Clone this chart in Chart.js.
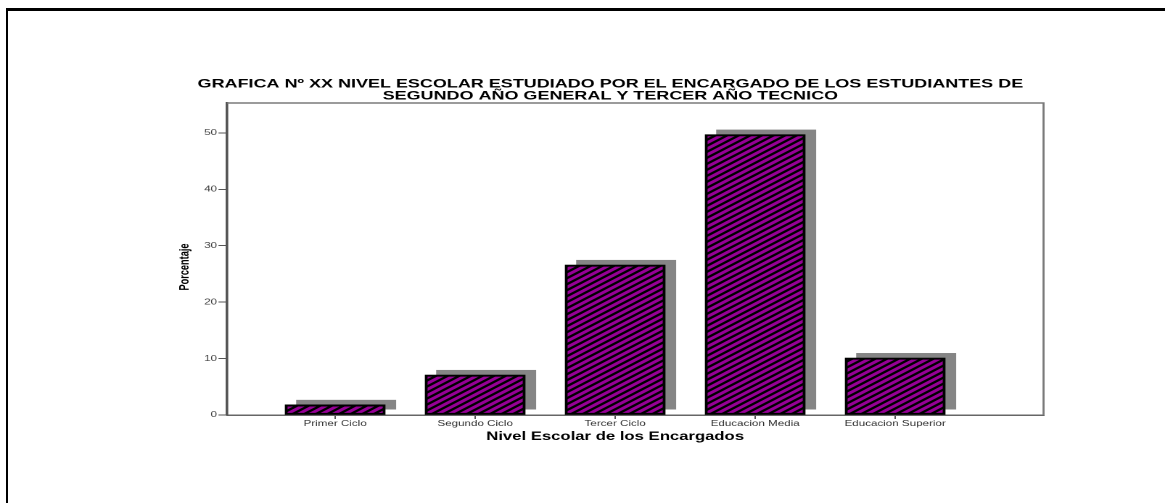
<!DOCTYPE html>
<html><head><meta charset="utf-8">
<script src="https://cdn.jsdelivr.net/npm/chart.js@4/dist/chart.umd.min.js"></script>
<style>
html,body{margin:0;padding:0;background:#fff;overflow:hidden;width:1165px;height:503px;}
#frame{position:absolute;left:6px;top:8px;width:1200px;height:600px;border-top:3px solid #000;border-left:2px solid #000;}
#c{position:absolute;left:0;top:0;}
</style></head><body>
<div id="frame"></div>
<canvas id="c" width="803" height="503" style="width:1165px;height:503px;"></canvas>
<script>
// ---- data ----
const categories = ['Primer Ciclo', 'Segundo Ciclo', 'Tercer Ciclo', 'Educacion Media', 'Educacion Superior'];
const percentages = [1.8, 7.1, 26.6, 49.7, 10.1];
const yTickValues = [0, 10, 20, 30, 40, 50];
const titleLines = ['GRAFICA Nº XX NIVEL ESCOLAR ESTUDIADO POR EL ENCARGADO DE LOS ESTUDIANTES DE', 'SEGUNDO AÑO GENERAL Y TERCER AÑO TECNICO'];
const xTitle = 'Nivel Escolar de los Encargados';
const yTitle = 'Porcentaje';

// ---- styling constants ----
const SX = 1165 / 803;           // horizontal stretch of the picture
const FONT = '"Liberation Sans", Arial, sans-serif';
const SHADOW_DX = 11 / SX, SHADOW_DY = -5;

function makePattern(ctx) {
  const S = 2, w = 8 * S, h = 6 * S;
  const t = document.createElement('canvas'); t.width = w; t.height = h;
  const tc = t.getContext('2d'); const img = tc.createImageData(w, h);
  const n = 4;
  for (let y = 0; y < h; y++) for (let x = 0; x < w; x++) {
    let cov = 0;
    for (let sy = 0; sy < n; sy++) for (let sx = 0; sx < n; sx++) {
      const ux = (x + (sx + 0.5) / n) / S, uy = (y + (sy + 0.5) / n) / S;
      const v = ((uy + ux * 0.75) % 6 + 6) % 6;
      if (v < 2.6) cov++;
    }
    const a = cov / (n * n), i = (y * w + x) * 4;
    img.data[i] = 150 * (1 - a); img.data[i + 1] = 0; img.data[i + 2] = 150 * (1 - a); img.data[i + 3] = 255;
  }
  tc.putImageData(img, 0, 0);
  const p = ctx.createPattern(t, 'repeat');
  p.setTransform(new DOMMatrix().scale(1 / S));
  return p;
}

const shadowPlugin = {
  id: 'barShadow',
  beforeDatasetsDraw(chart) {
    const ctx = chart.ctx, meta = chart.getDatasetMeta(0);
    ctx.save(); ctx.fillStyle = '#858585';
    meta.data.forEach(el => {
      const p = el.getProps(['x', 'y', 'base', 'width'], true);
      ctx.fillRect(p.x - p.width / 2 + SHADOW_DX, p.y + SHADOW_DY, p.width, p.base - p.y);
    });
    ctx.restore();
  }
};

const framePlugin = {
  id: 'frameAndTitles',
  afterDraw(chart) {
    const ctx = chart.ctx, a = chart.chartArea;
    ctx.save();
    ctx.strokeStyle = '#7a7a7a'; ctx.lineWidth = 1.4;
    ctx.beginPath();
    ctx.moveTo(a.left, a.top); ctx.lineTo(a.right, a.top); ctx.lineTo(a.right, a.bottom);
    ctx.stroke();
    ctx.fillStyle = '#000';
    ctx.textAlign = 'center'; ctx.textBaseline = 'middle';
    ctx.font = 'bold 11.5px ' + FONT;
    const xs = chart.scales.x;
    ctx.fillText(xTitle, xs.getPixelForValue((categories.length - 1) / 2), 437);
    ctx.font = 'bold 9.2px ' + FONT;
    ctx.translate(127.6, 267); ctx.rotate(-Math.PI / 2);
    ctx.fillText(yTitle, 0, 0);
    ctx.restore();
  }
};

const canvas = document.getElementById('c');
const ctx = canvas.getContext('2d');
const pattern = makePattern(ctx);

new Chart(ctx, {
  type: 'bar',
  data: {
    datasets: [{
      data: percentages.map((v, i) => ({ x: i, y: v })),
      backgroundColor: pattern,
      borderColor: '#000',
      borderWidth: 2,
      borderSkipped: false,
      barThickness: 100 / SX
    }]
  },
  options: {
    responsive: false,
    devicePixelRatio: 2,
    animation: false,
    layout: { padding: { left: 122.1, right: 83.7, top: 0, bottom: 74 } },
    plugins: {
      legend: { display: false },
      tooltip: { enabled: false },
      title: {
        display: true,
        text: titleLines,
        color: '#000',
        font: { family: FONT, size: 12.4, weight: 'bold', lineHeight: '12px' },
        padding: { top: 78, bottom: 1 }
      }
    },
    scales: {
      x: {
        type: 'linear',
        min: -0.771, max: 5.06,
        offset: false,
        afterBuildTicks(s) { s.ticks = categories.map((_, i) => ({ value: i })); },
        afterFit(s) { s.height = 14; },
        ticks: {
          callback: (v, i) => categories[i],
          font: { family: FONT, size: 8 },
          color: '#333', padding: 0, maxRotation: 0, autoSkip: false
        },
        grid: { drawOnChartArea: false, offset: false, tickLength: 4, color: '#555' },
        border: { display: true, color: '#666', width: 1.5 }
      },
      y: {
        type: 'linear',
        min: 0, max: 55.3,
        afterBuildTicks(s) { s.ticks = yTickValues.map(v => ({ value: v })); },
        afterFit(s) { s.width = 34.5; },
        ticks: { font: { family: FONT, size: 8 }, color: '#444', padding: 1 },
        grid: { drawOnChartArea: false, tickLength: 6, color: '#555' },
        border: { display: true, color: '#555', width: 1.8 }
      }
    }
  },
  plugins: [shadowPlugin, framePlugin]
});
</script>
</body></html>
